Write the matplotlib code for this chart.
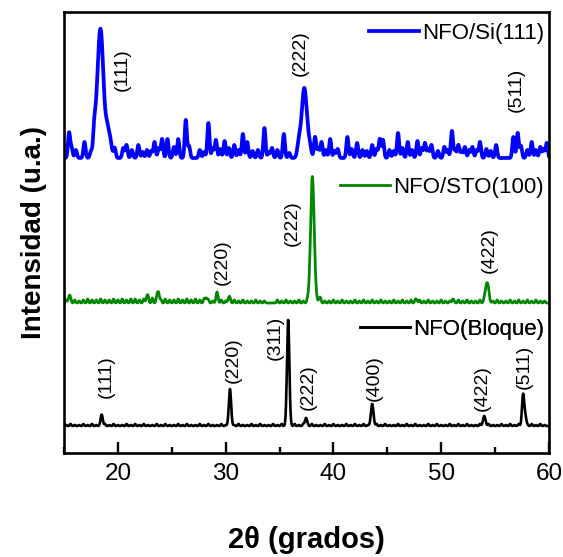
import numpy as np
import matplotlib
import matplotlib.pyplot as plt
from matplotlib.ticker import MultipleLocator

matplotlib.rcParams['font.family'] = ['Liberation Sans', 'DejaVu Sans']

# ---- datos (2theta, altura sobre la linea base, ancho) ----
# NFO/Si(111): picos principales + picos de ruido
si_pos = [18.4, 18.0, 19.0, 19.3, 37.3, 36.8, 37.8,
          15.47, 15.7, 16.1, 16.9, 17.5, 17.8, 19.7, 20.5, 20.8, 21.3, 21.9, 22.3, 22.7,
          23.1, 23.4, 23.8, 24.1, 24.6, 25.2, 25.6, 26.3, 26.6, 27.6, 28.0, 28.4, 28.8,
          29.1, 29.5, 29.9, 30.3, 30.8, 31.2, 31.6, 32.0, 32.5, 33.0, 33.6, 34.0, 34.3,
          34.8, 35.4, 35.9, 38.3, 38.6, 38.9, 39.3, 39.7, 40.1, 40.4, 41.3, 41.7, 42.2,
          42.7, 43.1, 43.6, 44.0, 44.3, 44.6, 45.2, 45.6, 46.0, 46.4, 46.9, 47.3, 47.8,
          48.2, 48.5, 48.8, 49.1, 49.7, 50.3, 50.6, 51.0, 51.3, 51.6, 51.9, 52.2, 52.6,
          52.9, 53.3, 53.6, 54.2, 54.6, 55.1, 56.7, 57.1, 57.4, 58.0, 58.4, 58.8, 59.2,
          59.5, 59.8]
si_int = [126, 22, 26, 14, 70, 14, 10,
          25, 10, 8, 16, 6, 17, 10, 10, 13, 8, 13, 6, 8,
          7, 16, 10, 19, 19, 11, 19, 38, 12, 8, 6, 35, 10,
          18, 9, 17, 10, 13, 8, 24, 16, 7, 8, 30, 6, 10,
          8, 24, 5, 21, 10, 16, 8, 19, 7, 9, 21, 9, 15,
          8, 7, 13, 9, 19, 18, 8, 7, 25, 10, 16, 8, 17,
          10, 15, 9, 13, 7, 11, 8, 27, 8, 13, 7, 11, 8,
          11, 8, 16, 9, 7, 13, 21, 25, 12, 8, 16, 8, 11,
          9, 15]
si_wid = [0.26, 0.2, 0.18, 0.15, 0.24, 0.15, 0.15] + [0.1] * 96

# NFO/STO(100): picos + ruido de fondo (rejilla de 0.4 grados)
sto_pos = [38.05, 54.25, 23.75, 29.2, 15.5, 22.7, 28.2, 30.3, 38.7, 47.7, 51.1]
sto_int = [125, 20, 11, 8, 7, 6, 5, 5, 4, 3, 4]
sto_wid = [0.17, 0.15, 0.1, 0.1, 0.1, 0.1, 0.1, 0.1, 0.1, 0.1, 0.1]
sto_noise = [3, 2, 3, 2, 3, 4, 3, 3, 4, 3, 3, 4, 3, 4, 3, 4, 4, 3, 4, 4,
             5, 4, 3, 4, 3, 3, 4, 3, 4, 3, 4, 3, 4, 3, 2, 3, 3, 2, 3, 3,
             2, 3, 2, 2, 3, 2, 2, 0, 0, 3, 2, 3, 2, 2, 3, 2, 3, 2, 2, 3,
             2, 2, 3, 2, 3, 2, 2, 3, 2, 3, 2, 3, 2, 3, 2, 2, 3, 2, 3, 2,
             3, 2, 3, 2, 3, 2, 2, 3, 2, 2, 0, 3, 2, 3, 2, 2, 3, 2, 3, 2,
             3, 2, 2, 3, 2, 3, 2, 3, 2, 3, 2, 2]

# NFO (Bloque)
blk_pos = [18.5, 30.4, 35.8, 37.45, 43.6, 54.0, 57.6, 57.8]
blk_int = [11, 35, 106, 8, 21, 9, 30, 10]
blk_wid = [0.1, 0.11, 0.11, 0.1, 0.12, 0.12, 0.1, 0.1]
blk_noise = [1, 2, 1, 1, 2, 1, 2, 1, 1, 2, 1, 2, 1, 1, 2, 1, 2, 1, 2, 1,
             1, 2, 1, 2, 1, 1, 2, 1, 2, 1, 1, 2, 1, 2, 1, 1, 2, 1, 2, 1,
             2, 1, 1, 2, 1, 2, 1, 1, 2, 1, 2, 1, 1, 2, 1, 2, 1, 2, 1, 1,
             2, 1, 2, 1, 1, 2, 1, 2, 1, 2, 1, 1, 2, 1, 2, 1, 1, 2, 1, 2,
             1, 2, 1, 1, 2, 1, 2, 1, 1, 2, 1, 2, 1, 2, 1, 1, 2, 1, 2, 1,
             1, 2, 1, 2, 1, 2, 1, 1, 2, 1, 2, 1]

offsets = [295, 150, 27]
labels = ['NFO/Si(111)', 'NFO/STO(100)', 'NFO(Bloque)']
colors = ['#0000ff', '#008800', '#000000']

# indices de Miller
si_hkl = ['(111)', '(222)', '(511)']
si_hkl_x = [20.4, 36.9, 57.0]
si_hkl_y = [383, 400, 363]
sto_hkl = ['(220)', '(222)', '(422)']
sto_hkl_x = [29.7, 36.2, 54.5]
sto_hkl_y = [191, 230, 203]
blk_hkl = ['(111)', '(220)', '(311)', '(222)', '(400)', '(422)', '(511)']
blk_hkl_x = [18.9, 30.7, 34.6, 37.7, 43.8, 53.8, 57.7]
blk_hkl_y = [76, 93, 115, 66, 75, 65, 86]


def pattern(x, pos, inten, wid, noise=None):
    y = np.zeros_like(x)
    for p, h, w in zip(pos, inten, wid):
        y += h * np.exp(-(x - p) ** 2 / (2 * w ** 2))
    if noise:
        for i, h in enumerate(noise):
            y += h * np.exp(-(x - (15.2 + 0.4 * i)) ** 2 / (2 * 0.07 ** 2))
    return y


x = np.arange(15, 60.001, 0.02)
fig, ax = plt.subplots(figsize=(5.63, 5.57), dpi=100)
fig.subplots_adjust(left=0.1137, right=0.975, bottom=0.1867, top=0.9785)

series = [(si_pos, si_int, si_wid, None),
          (sto_pos, sto_int, sto_wid, sto_noise),
          (blk_pos, blk_int, blk_wid, blk_noise)]
widths = [2.7, 2.0, 1.9]
lines = []
for (p, h, w, n), off, c, lw, lab in zip(series, offsets, colors, widths, labels):
    ln, = ax.plot(x, pattern(x, p, h, w, n) + off, color=c, lw=lw, label=lab)
    lines.append(ln)

for txts, xs, ys in [(si_hkl, si_hkl_x, si_hkl_y), (sto_hkl, sto_hkl_x, sto_hkl_y),
                     (blk_hkl, blk_hkl_x, blk_hkl_y)]:
    for t, xx, yy in zip(txts, xs, ys):
        ax.text(xx, yy, t, rotation=90, ha='center', va='center', fontsize=14)

leg_y = [0.952, 0.603, 0.281]
for ln, ly in zip(lines, leg_y):
    leg = ax.legend(handles=[ln], loc='center right', bbox_to_anchor=(0.99, ly),
                    frameon=False, fontsize=16, handlelength=2.25, handletextpad=0.15,
                    borderpad=0, borderaxespad=0)
    ax.add_artist(leg)

ax.set_xlim(15, 60)
ax.set_ylim(0, 441)
ax.set_yticks([])
ax.xaxis.set_major_locator(MultipleLocator(10))
ax.xaxis.set_minor_locator(MultipleLocator(5))
ax.tick_params(axis='x', which='major', direction='in', length=8, width=1.7,
               labelsize=17.5, pad=7, top=False)
ax.tick_params(axis='x', which='minor', direction='in', length=4, width=1.7, top=False)
for s in ax.spines.values():
    s.set_linewidth(1.9)

ax.set_xlabel('2θ (grados)', fontsize=21, fontweight='bold', labelpad=30)
ax.set_ylabel('Intensidad (u.a.)', fontsize=20, fontweight='bold')
ax.yaxis.set_label_coords(-0.035, 0.5)

plt.savefig('out.png', dpi=100)
